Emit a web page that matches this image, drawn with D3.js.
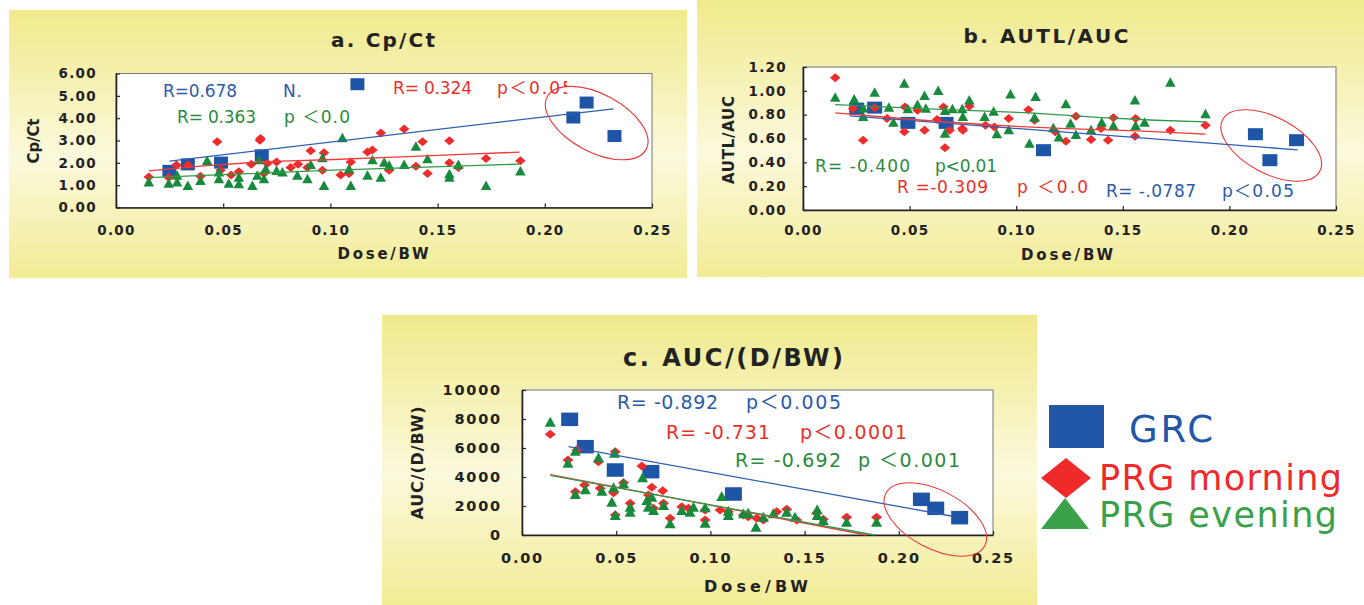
<!DOCTYPE html>
<html><head><meta charset="utf-8">
<script src="https://cdn.jsdelivr.net/npm/d3@7"></script>
<style>body{margin:0;background:#fff}svg{display:block}</style>
</head><body>
<svg id="chart" width="1364" height="605"></svg>
<script>
// ---------- DATA ----------
const xTicks = [0, 0.05, 0.10, 0.15, 0.20, 0.25];
const aYTicks = [0, 1, 2, 3, 4, 5, 6];
const bYTicks = [0, 0.2, 0.4, 0.6, 0.8, 1.0, 1.2];
const cYTicks = [0, 2000, 4000, 6000, 8000, 10000];

const seriesNames = ["GRC", "PRG morning", "PRG evening"];

// Panel a: Cp/Ct
const aGRC = [[0.0249,1.64],[0.0335,1.93],[0.049,2.01],[0.068,2.34],[0.1126,5.52],[0.2133,4.03],[0.2195,4.70],[0.2325,3.20]];
const aMorning = [[0.0153,1.37],[0.0246,1.34],[0.0282,1.90],[0.0335,1.90],[0.0394,1.40],[0.0472,2.94],[0.0488,1.67],[0.0537,1.45],[0.0573,1.60],[0.0631,1.94],[0.0671,3.01],[0.0674,3.09],[0.069,1.52],[0.0706,1.97],[0.0749,2.04],[0.0815,1.79],[0.0849,1.94],[0.0893,1.79],[0.0908,2.54],[0.0963,1.67],[0.097,2.45],[0.1048,1.45],[0.1087,1.52],[0.1095,2.04],[0.1173,2.49],[0.1196,2.57],[0.1235,3.34],[0.1274,1.67],[0.1344,3.51],[0.1399,1.85],[0.143,2.94],[0.1453,1.52],[0.1555,2.99],[0.1555,2.00],[0.1597,1.79],[0.1726,2.19],[0.1886,2.09]];
const aEvening = [[0.0153,1.15],[0.0246,1.10],[0.0285,1.45],[0.0285,1.15],[0.0335,1.00],[0.0394,1.22],[0.0425,2.12],[0.048,1.60],[0.048,1.30],[0.0526,1.10],[0.0573,1.07],[0.0573,1.37],[0.0636,1.00],[0.0659,1.45],[0.0667,2.15],[0.069,1.30],[0.0698,1.75],[0.0749,1.67],[0.0776,1.60],[0.0846,1.45],[0.0893,1.30],[0.0908,1.94],[0.0963,2.24],[0.097,1.00],[0.1056,3.13],[0.1087,1.75],[0.1095,1.00],[0.1173,1.45],[0.1196,2.15],[0.1235,1.37],[0.1251,2.04],[0.1274,1.90],[0.1344,1.94],[0.1399,2.75],[0.1453,2.19],[0.1555,1.37],[0.1555,1.52],[0.1597,1.94],[0.1726,1.00],[0.1886,1.64]];
const aTrendGRC = [[0.025,2.08],[0.232,4.42]];
const aTrendMorning = [[0.0153,1.64],[0.0394,1.85],[0.0674,2.04],[0.1017,2.15],[0.1329,2.27],[0.164,2.39],[0.1882,2.48]];
const aTrendEvening = [[0.0153,1.34],[0.055,1.49],[0.1017,1.67],[0.148,1.82],[0.188,1.94]];

// Panel b: AUTL/AUC
const bGRC = [[0.0252,0.851],[0.0336,0.859],[0.0492,0.731],[0.0671,0.731],[0.1128,0.502],[0.2122,0.636],[0.219,0.418],[0.2315,0.586]];
const bMorning = [[0.0151,1.11],[0.0235,0.851],[0.0282,0.586],[0.0336,0.859],[0.0394,0.767],[0.0475,0.656],[0.0478,0.865],[0.0537,0.837],[0.057,0.669],[0.0629,0.759],[0.0659,0.865],[0.0666,0.522],[0.0688,0.669],[0.0747,0.683],[0.075,0.669],[0.078,0.870],[0.0856,0.711],[0.0898,0.697],[0.0965,0.767],[0.1057,0.842],[0.1086,0.753],[0.1183,0.656],[0.1233,0.577],[0.128,0.787],[0.1351,0.591],[0.1398,0.683],[0.1431,0.586],[0.1456,0.775],[0.1557,0.619],[0.156,0.767],[0.1723,0.669],[0.1888,0.711]];
const bEvening = [[0.0151,0.948],[0.024,0.934],[0.0282,0.859],[0.0282,0.787],[0.0336,0.99],[0.0403,0.865],[0.0424,0.739],[0.0475,1.066],[0.0492,0.851],[0.0537,0.887],[0.057,0.962],[0.0576,0.856],[0.0634,1.004],[0.0666,0.837],[0.0666,0.647],[0.0701,0.851],[0.0747,0.851],[0.075,0.787],[0.078,0.926],[0.0852,0.787],[0.0894,0.831],[0.0909,0.642],[0.0965,0.675],[0.0973,0.976],[0.1062,0.563],[0.1086,0.781],[0.1091,0.954],[0.1174,0.692],[0.12,0.614],[0.1233,0.893],[0.1255,0.731],[0.128,0.636],[0.1351,0.675],[0.1401,0.739],[0.1456,0.711],[0.1557,0.926],[0.156,0.711],[0.1602,0.739],[0.1723,1.074],[0.1888,0.809]];
const bTrendGRC = [[0.022,0.79],[0.232,0.505]];
const bTrendMorning = [[0.0151,0.815],[0.0562,0.753],[0.0898,0.711],[0.1233,0.683],[0.1569,0.664],[0.1888,0.636]];
const bTrendEvening = [[0.0151,0.884],[0.0562,0.851],[0.1065,0.815],[0.1401,0.776],[0.1653,0.753],[0.1888,0.739]];

// Panel c: AUC/(D/BW)
const cGRC = [[0.0253,7977],[0.0336,6092],[0.0495,4483],[0.0684,4368],[0.1122,2828],[0.212,2460],[0.2196,1839],[0.2323,1195]];
const cMorning = [[0.015,6943],[0.0244,5172],[0.0292,5862],[0.0283,2989],[0.0332,3448],[0.0406,5057],[0.0415,3218],[0.0495,5747],[0.0486,2920],[0.0495,1379],[0.0539,3609],[0.0574,2184],[0.0636,4759],[0.0671,2759],[0.0689,3287],[0.0698,1839],[0.0747,3057],[0.0751,2184],[0.0786,1149],[0.0848,1954],[0.0883,1839],[0.0972,1724],[0.0972,1034],[0.1051,1724],[0.1095,1609],[0.1175,1379],[0.1201,1264],[0.1246,1149],[0.1281,1034],[0.1352,1609],[0.1405,1770],[0.1458,1034],[0.1564,1494],[0.1599,1080],[0.1723,1218],[0.1882,1218]];
const cEvening = [[0.015,7816],[0.0244,4989],[0.0283,5816],[0.0283,2828],[0.0336,3149],[0.0406,5357],[0.0424,3058],[0.0486,3287],[0.0477,2299],[0.0491,5678],[0.0495,1379],[0.0539,3563],[0.0574,1954],[0.0574,1609],[0.064,3977],[0.0663,2414],[0.0671,1954],[0.0689,2644],[0.0698,1724],[0.0751,2069],[0.0786,805],[0.0848,1724],[0.0892,1609],[0.091,1954],[0.0972,851],[0.0972,1908],[0.106,2690],[0.1095,1379],[0.1095,1678],[0.1175,1494],[0.1201,1540],[0.1242,575],[0.1281,1264],[0.1334,1494],[0.1405,1609],[0.1449,1264],[0.1567,1770],[0.1567,1379],[0.1599,1034],[0.1723,920],[0.1882,920]];
const cTrendGRC = [[0.0247,6092],[0.2279,1310]];
const cTrendMorning = [[0.015,4170],[0.183,0]];
const cTrendEvening = [[0.015,4110],[0.187,0]];

// ---------- STYLE ----------
const COL = {
  blue: "#1f55a6", red: "#ee2c2c", green: "#178a3d",
  lblue: "#2e61b3", lred: "#f03a3a", lgreen: "#2f9a46",
  tblue: "#2b5ba8", tred: "#e8302a", tgreen: "#2a8a3c",
  legGreen: "#3aa14a"
};
const TICKFONT = "'DejaVu Sans', sans-serif";
const TXTFONT = "'DejaVu Sans', 'Noto Sans CJK JP', sans-serif";
const LEGFONT = "'DejaVu Sans', sans-serif";

const svg = d3.select("#chart");
const defs = svg.append("defs");
const grad = defs.append("linearGradient").attr("id","bg").attr("x1",0).attr("y1",0).attr("x2",0).attr("y2",1);
grad.append("stop").attr("offset","0%").attr("stop-color","#f0ea8c");
grad.append("stop").attr("offset","55%").attr("stop-color","#fbf9dc");
grad.append("stop").attr("offset","100%").attr("stop-color","#f2ec95");

function drawPanel(p) {
  svg.append("rect").attr("x",p.bg[0]).attr("y",p.bg[1]).attr("width",p.bg[2]).attr("height",p.bg[3]).attr("fill","url(#bg)");
  const x = d3.scaleLinear().domain([0,0.25]).range([p.px0,p.px1]);
  const y = d3.scaleLinear().domain(p.yDomain).range([p.py0,p.py1]);
  const g = svg.append("g");
  g.append("rect").attr("x",p.px0).attr("y",p.py1).attr("width",p.px1-p.px0).attr("height",p.py0-p.py1)
    .attr("fill","#fff").attr("stroke","#777").attr("stroke-width",1);
  const ya = g.append("g").attr("transform",`translate(${p.px0},0)`)
    .call(d3.axisLeft(y).tickValues(p.yTicks).tickFormat(p.yFmt).tickSizeInner(-4).tickSizeOuter(0).tickPadding(p.yPad));
  const xa = g.append("g").attr("transform",`translate(0,${p.py0})`)
    .call(d3.axisBottom(x).tickValues(xTicks).tickFormat(d3.format(".2f")).tickSizeInner(-4).tickSizeOuter(0).tickPadding(p.xPad));
  [ya, xa].forEach(a => {
    a.select(".domain").attr("stroke","#222").attr("stroke-width",1.6);
    a.selectAll(".tick line").attr("stroke","#222").attr("stroke-width",1.2);
    a.selectAll(".tick text").attr("font-family",TICKFONT).attr("font-weight","bold")
      .attr("font-size",p.tickSize).attr("fill","#222").style("letter-spacing",p.tickLS+"px");
  });
  g.append("text").attr("x",p.title[1]).attr("y",p.title[2]).attr("text-anchor","middle").attr("dominant-baseline","central")
    .attr("font-family",TICKFONT).attr("font-weight","bold").attr("font-size",p.title[3]).attr("fill","#222")
    .attr("textLength",p.title[4]).attr("lengthAdjust","spacing").text(p.title[0]);
  g.append("text").attr("x",p.xLab[1]).attr("y",p.xLab[2]).attr("text-anchor","middle").attr("dominant-baseline","central")
    .attr("font-family",TICKFONT).attr("font-weight","bold").attr("font-size",p.xLab[3]).attr("fill","#222")
    .attr("textLength",p.xLab[4]).attr("lengthAdjust","spacing").text(p.xLab[0]);
  g.append("text").attr("transform",`translate(${p.yLab[1]},${p.yLab[2]}) rotate(-90)`).attr("text-anchor","middle").attr("dominant-baseline","central")
    .attr("font-family",TICKFONT).attr("font-weight","bold").attr("font-size",p.yLab[3]).attr("fill","#222")
    .attr("textLength",p.yLab[4]).attr("lengthAdjust","spacing").text(p.yLab[0]);

  const ms = p.ms;
  g.selectAll(null).data(p.grc).join("rect")
    .attr("x",d=>x(d[0])-ms.sq[0]/2).attr("y",d=>y(d[1])-ms.sq[1]/2).attr("width",ms.sq[0]).attr("height",ms.sq[1]).attr("fill",COL.blue);
  g.selectAll(null).data(p.morning).join("path")
    .attr("d",d=>{const cx=x(d[0]),cy=y(d[1]),w=ms.di[0]/2,h=ms.di[1]/2;return `M${cx-w},${cy}L${cx},${cy-h}L${cx+w},${cy}L${cx},${cy+h}Z`;})
    .attr("fill",COL.red);
  g.selectAll(null).data(p.evening).join("path")
    .attr("d",d=>{const cx=x(d[0]),cy=y(d[1]),w=ms.tr[0]/2,h=ms.tr[1]/2;return `M${cx-w},${cy+h}L${cx},${cy-h}L${cx+w},${cy+h}Z`;})
    .attr("fill",COL.green);

  const line = d3.line().x(d=>x(d[0])).y(d=>y(d[1])).curve(d3.curveLinear);
  [[p.tGRC,COL.lblue],[p.tMorning,COL.lred],[p.tEvening,COL.lgreen]].forEach(([d,c])=>{
    g.append("path").attr("d",line(d)).attr("fill","none").attr("stroke",c).attr("stroke-width",1.3);
  });

  const e = p.ell;
  g.append("ellipse").attr("cx",0).attr("cy",0).attr("rx",e[2]).attr("ry",e[3])
    .attr("transform",`translate(${x(e[0])},${y(e[1])}) rotate(${e[4]})`)
    .attr("fill","none").attr("stroke","#e8383a").attr("stroke-width",1.1);

  p.notes.forEach((n,i)=>{
    let t = g.append("text").attr("x",n[1]).attr("y",n[2]).attr("font-family",TXTFONT)
      .style("font-size",n[4]+"px")
      .attr("fill",n[3]).attr("textLength",n[5]).attr("lengthAdjust","spacing").text(n[0]);
    if (n[6]) {
      const id = "clip"+p.id+i;
      defs.append("clipPath").attr("id",id).append("rect").attr("x",n[1]-2).attr("y",n[2]-30).attr("width",n[6]-n[1]+2).attr("height",40);
      t.attr("clip-path",`url(#${id})`);
    }
  });
}

drawPanel({
  id:"a", bg:[9,10,678,268], px0:116, px1:652, py0:207.5, py1:73.5, yDomain:[0,6], yTicks:aYTicks,
  yFmt:d3.format(".2f"), yPad:19, xPad:18, tickSize:13.5, tickLS:1.3,
  title:["a. Cp/Ct",383,40,20,104], xLab:["Dose/BW",383,254,15,91], yLab:["Cp/Ct",34,141,15,45],
  grc:aGRC, morning:aMorning, evening:aEvening, tGRC:aTrendGRC, tMorning:aTrendMorning, tEvening:aTrendEvening,
  ms:{sq:[14,12],di:[10.5,9],tr:[10.5,9.5]},
  ell:[0.2242,3.78,56,29,28],
  notes:[["R=0.678",163,97,COL.tblue,17,74],["N.",283,97,COL.tblue,17,19],
         ["R= 0.324",393,94,COL.tred,17,79],["p＜0.05",497,94,COL.tred,17,76,567],
         ["R= 0.363",177,123,COL.tgreen,17,79],["p ＜0.0",284,123,COL.tgreen,17,66]]
});

drawPanel({
  id:"b", bg:[697,0,667,277], px0:803, px1:1336, py0:210, py1:67, yDomain:[0,1.2], yTicks:bYTicks,
  yFmt:d3.format(".2f"), yPad:16, xPad:15.5, tickSize:13.5, tickLS:1.3,
  title:["b. AUTL/AUC",1046,36,20,165], xLab:["Dose/BW",1067,255,15,92], yLab:["AUTL/AUC",729,140,15,88],
  grc:bGRC, morning:bMorning, evening:bEvening, tGRC:bTrendGRC, tMorning:bTrendMorning, tEvening:bTrendEvening,
  ms:{sq:[15,12],di:[10.5,9],tr:[10.5,9.5]},
  ell:[0.2196,0.541,55,28,28],
  notes:[["R= -0.400",815,172,COL.tgreen,17,95],["p<0.01",935,172,COL.tgreen,17,62],
         ["R =-0.309",897,193,COL.tred,17,91],["p ＜0.05",1017,193,COL.tred,17,84,1091],
         ["R= -.0787",1106,197,COL.tblue,17,90],["p＜0.05",1222,197,COL.tblue,17,72]]
});

drawPanel({
  id:"c", bg:[382,315,655,290], px0:522, px1:993, py0:535, py1:390, yDomain:[0,10000], yTicks:cYTicks,
  yFmt:d3.format("d"), yPad:20, xPad:18, tickSize:14.5, tickLS:1.8,
  title:["c. AUC/(D/BW)",733,358,24,220], xLab:["Dose/BW",756,586,16,104], yLab:["AUC/(D/BW)",417,463,16,113],
  grc:cGRC, morning:cMorning, evening:cEvening, tGRC:cTrendGRC, tMorning:cTrendMorning, tEvening:cTrendEvening,
  ms:{sq:[17,13.5],di:[11,9],tr:[11,10]},
  ell:[0.2194,1070,56,29,28],
  notes:[["R= -0.892",617,409,COL.tblue,19,101],["p＜0.005",746,409,COL.tblue,19,95],
         ["R= -0.731",666,439,COL.tred,19,104],["p＜0.0001",800,439,COL.tred,19,107],
         ["R= -0.692",735,467,COL.tgreen,19,106],["p ＜0.001",858,467,COL.tgreen,19,102]]
});

// ---------- LEGEND ----------
const leg = svg.append("g");
const legendColors = ["#2157a6", "#ee2a2a", COL.legGreen];
leg.append("rect").attr("x",1049).attr("y",405).attr("width",55).attr("height",43).attr("fill",legendColors[0]);
leg.append("path").attr("d","M1041,478L1066,458L1091,478L1066,498Z").attr("fill",legendColors[1]);
leg.append("path").attr("d","M1041,529L1065,498L1089,529Z").attr("fill",legendColors[2]);
const legText = [[seriesNames[0],1129,442,37,84],[seriesNames[1],1099,490,35,243],[seriesNames[2],1099,527,35,238]];
legText.forEach((t,i)=>{
  leg.append("text").attr("x",t[1]).attr("y",t[2]).attr("font-family",LEGFONT).attr("font-size",t[3])
    .attr("fill",legendColors[i]).attr("textLength",t[4]).attr("lengthAdjust","spacing").text(t[0]);
});
</script>
</body></html>
